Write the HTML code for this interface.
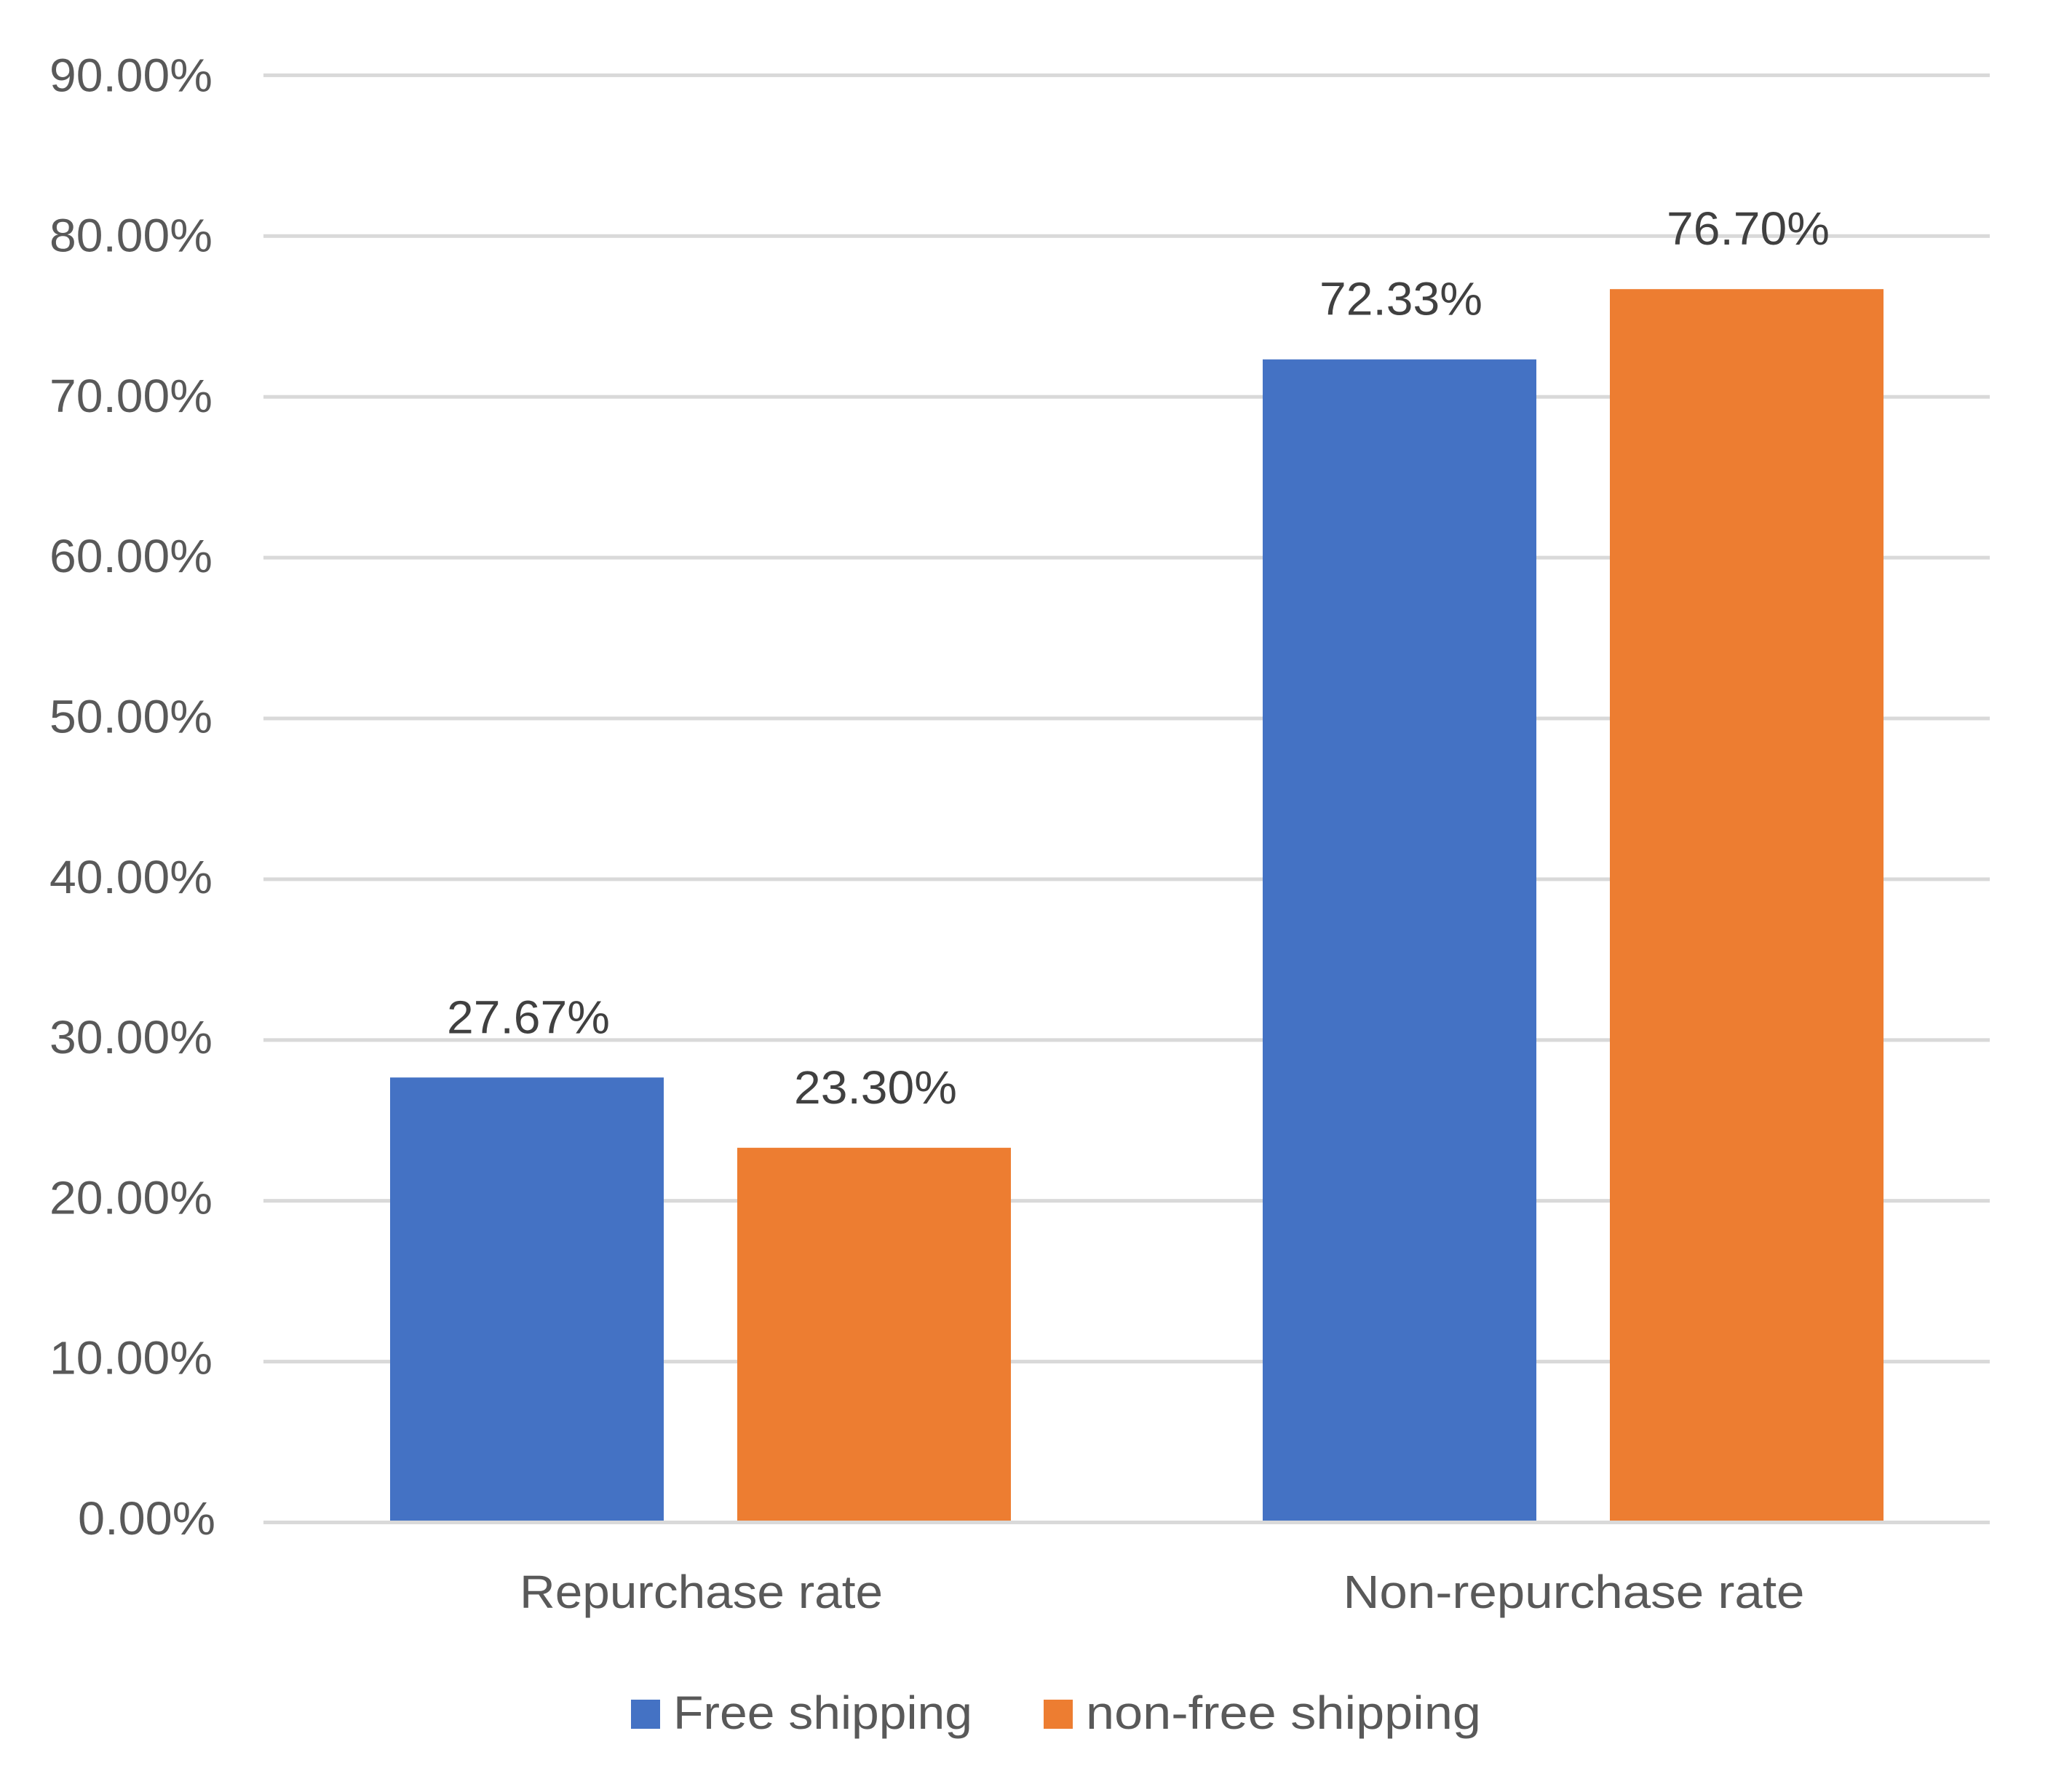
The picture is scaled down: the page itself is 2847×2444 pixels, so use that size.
<!DOCTYPE html>
<html lang="en">
<head>
<meta charset="utf-8">
<title>Repurchase rate chart</title>
<style>
  html, body { margin: 0; padding: 0; background: #fff; }
  #chart { display: block; width: 2847px; height: 2444px; }
  text { font-family: "Liberation Sans", sans-serif; font-size: 64px; }
</style>
</head>
<body>
<svg id="chart" xmlns="http://www.w3.org/2000/svg" width="2847" height="2444" viewBox="0 0 2847 2444">
  <rect x="0" y="0" width="2847" height="2444" fill="#ffffff"/>
  <g id="grid"></g>
  <g id="yLabels"></g>
  <g id="bars"></g>
  <g id="baseline"></g>
  <g id="values"></g>
  <g id="xLabels"></g>
  <g>
    <g>
      <rect x="867" y="2335" width="40" height="40" fill="#4472c4"/>
      <text x="925" y="2375" fill="#595959" textLength="411" lengthAdjust="spacingAndGlyphs">Free shipping</text>
    </g>
    <g>
      <rect x="1434" y="2335" width="40" height="40" fill="#ed7d31"/>
      <text x="1492" y="2375" fill="#595959" textLength="543" lengthAdjust="spacingAndGlyphs">non-free shipping</text>
    </g>
  </g>
</svg>
<script>
const categories = ['Repurchase rate', 'Non-repurchase rate'];
const freeShipping = [27.67, 72.33];
const nonFreeShipping = [23.30, 76.70];
const tickValues = [0, 10, 20, 30, 40, 50, 60, 70, 80, 90];
const tickLabels = ['0.00%', '10.00%', '20.00%', '30.00%', '40.00%', '50.00%', '60.00%', '70.00%', '80.00%', '90.00%'];

const NS = 'http://www.w3.org/2000/svg';
const plotLeft = 362, plotRight = 2734;
const bandStart = 363, bandWidth = 1199, barWidth = 376, barGap = 101;

function yScale(v) { return 2091.5 - v * 22.09; }
function tickBaseline(v) { return 2108 - v * 22.03; }
function bandCenter(i) { return bandStart + bandWidth * (i + 0.5); }
function barLeft(i, s) {
  return bandCenter(i) - barWidth - barGap / 2 + s * (barWidth + barGap);
}
function make(tag, attrs, parentId, content) {
  const node = document.createElementNS(NS, tag);
  Object.keys(attrs).forEach(function (k) { node.setAttribute(k, attrs[k]); });
  if (content !== undefined) node.textContent = content;
  document.getElementById(parentId).appendChild(node);
  return node;
}
function slug(s) { return String(s).toLowerCase().replace(/[^a-z0-9]+/g, '-').replace(/-$/, ''); }

tickValues.forEach(function (v, i) {
  const isZero = v === 0;
  const line = make('rect', {
    x: plotLeft, y: yScale(v) - 2.5, width: plotRight - plotLeft, height: 5, fill: '#d9d9d9'
  }, isZero ? 'baseline' : 'grid');
  
  

  const label = make('text', {
    x: isZero ? 296 : 292, y: tickBaseline(v), 'text-anchor': 'end', fill: '#595959',
    textLength: tickLabels[i].length === 5 ? 189 : 224, lengthAdjust: 'spacingAndGlyphs'
  }, 'yLabels', tickLabels[i]);
  
  
});

const seriesList = [
  { name: 'free-shipping', values: freeShipping, color: '#4472c4' },
  { name: 'non-free-shipping', values: nonFreeShipping, color: '#ed7d31' }
];
seriesList.forEach(function (series, s) {
  series.values.forEach(function (value, i) {
    const top = yScale(value);
    const bar = make('rect', {
      x: barLeft(i, s), y: top, width: barWidth, height: yScale(0) - top, fill: series.color
    }, 'bars');
    
    

    const valueLabel = make('text', {
      x: barLeft(i, s) + barWidth / 2 + 2, y: top - 61, 'text-anchor': 'middle', fill: '#404040',
      textLength: 224, lengthAdjust: 'spacingAndGlyphs'
    }, 'values', value.toFixed(2) + '%');
    
    
  });
});

categories.forEach(function (name, i) {
  const label = make('text', {
    x: bandCenter(i) + 1, y: 2209, 'text-anchor': 'middle', fill: '#595959',
    textLength: name.length > 16 ? 634 : 499, lengthAdjust: 'spacingAndGlyphs'
  }, 'xLabels', name);
  
  
});
</script>
</body>
</html>
